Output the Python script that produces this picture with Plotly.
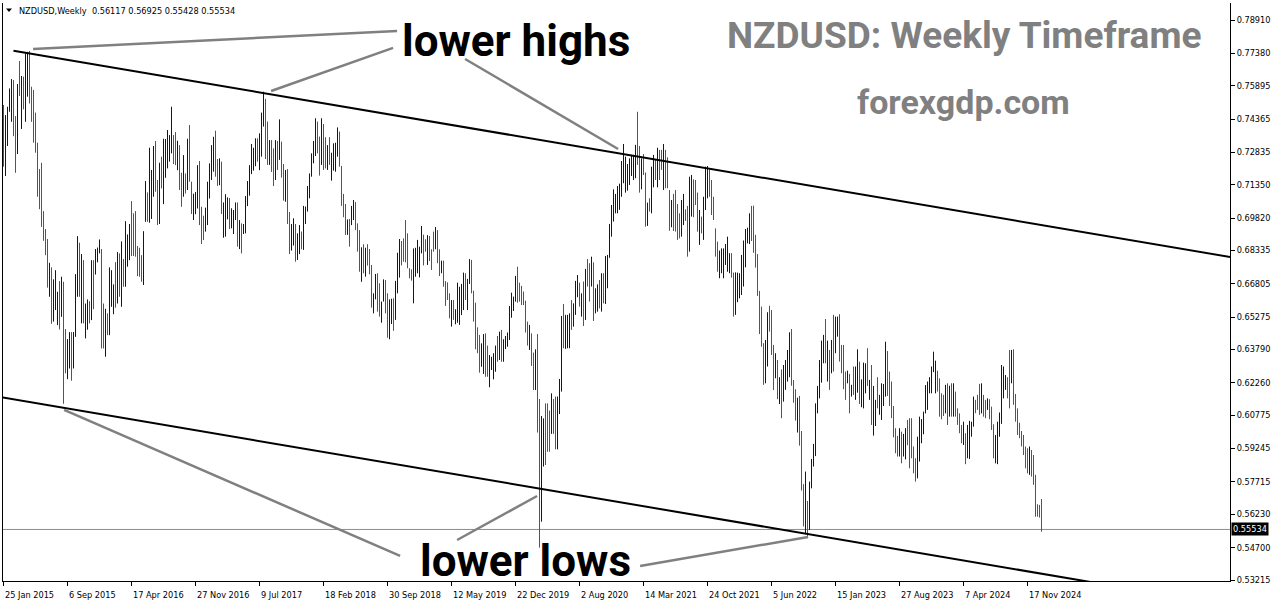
import plotly.graph_objects as go

# ---------------- data: NZDUSD weekly bars, first bar = week of 25 Jan 2015 ----------------
highs = [
    .7501, .7455, .7493, .7577, .7620, .7615, .7450, .7597, .7703, .7634,
    .7631, .7738, .7745, .7749, .7585, .7570, .7466, .7328, .7207, .7236,
    .7014, .6932, .6886, .6777, .6756, .6701, .6743, .6644, .6693, .6713,
    .6690, .6473, .6427, .6459, .6459, .6459, .6725, .6899, .6869, .6817,
    .6789, .6590, .6609, .6601, .6789, .6789, .6840, .6847, .6884, .6840,
    .6590, .6566, .6545, .6756, .6743, .6678, .6780, .6826, .6820, .6875,
    .6794, .6968, .6907, .6955, .7060, .7004, .7014, .6854, .6846, .6812,
    .6922, .7152, .7100, .7305, .7203, .7313, .7336, .7157, .7236, .7264,
    .7346, .7345, .7386, .7363, .7493, .7363, .7377, .7337, .7317, .7190,
    .7271, .7187, .7346, .7409, .7149, .7094, .7102, .7225, .7244, .7034,
    .6993, .7030, .7149, .7233, .7317, .7355, .7383, .7253, .7256, .7241,
    .7054, .7092, .7077, .7074, .7027, .7019, .7054, .7054, .6973, .6958,
    .6955, .7083, .7152, .7225, .7322, .7305, .7348, .7348, .7371, .7466,
    .7562, .7529, .7425, .7340, .7340, .7302, .7340, .7336, .7435, .7333,
    .7230, .7203, .7207, .7010, .6955, .6981, .6955, .6912, .6950, .6920,
    .7038, .7035, .7129, .7187, .7279, .7336, .7440, .7425, .7356, .7440,
    .7414, .7353, .7317, .7353, .7282, .7325, .7328, .7398, .7379, .7221,
    .7093, .7047, .6976, .6978, .7038, .7065, .7056, .6958, .6927, .6848,
    .6862, .6846, .6862, .6840, .6767, .6637, .6726, .6729, .6683, .6599,
    .6701, .6698, .6637, .6609, .6612, .6614, .6694, .6823, .6886, .6877,
    .6889, .6973, .6912, .6752, .6747, .6843, .6846, .6882, .6851, .6946,
    .6906, .6885, .6904, .6900, .6839, .6920, .6941, .6927, .6839, .6787,
    .6787, .6693, .6687, .6637, .6606, .6606, .6564, .6686, .6667, .6680,
    .6732, .6729, .6703, .6794, .6790, .6649, .6594, .6481, .6446, .6407,
    .6450, .6453, .6397, .6354, .6346, .6362, .6397, .6441, .6461, .6469,
    .6426, .6441, .6457, .6579, .6640, .6622, .6717, .6759, .6686, .6671,
    .6645, .6603, .6507, .6492, .6453, .6365, .6380, .6450, .6152, .6074,
    .6063, .6132, .6132, .6099, .6178, .6152, .6163, .6163, .6244, .6533,
    .6588, .6538, .6538, .6545, .6606, .6591, .6694, .6721, .6686, .6637,
    .6691, .6749, .6794, .6775, .6805, .6779, .6660, .6678, .6698, .6729,
    .6729, .6808, .6813, .6955, .7042, .7114, .7093, .7129, .7140, .7244,
    .7322, .7264, .7230, .7256, .7272, .7272, .7318, .7470, .7313, .7256,
    .7276, .7191, .7053, .7073, .7218, .7272, .7252, .7305, .7295, .7295,
    .7322, .7295, .7261, .7111, .7065, .7093, .7111, .7047, .7004, .7065,
    .7093, .7022, .7038, .7172, .7180, .7160, .7157, .7099, .7019, .6989,
    .7080, .7218, .7221, .7206, .7157, .7080, .6935, .6874, .6833, .6843,
    .6843, .6863, .6897, .6821, .6821, .6732, .6733, .6732, .6729, .6813,
    .6879, .6932, .6938, .7004, .7038, .7039, .6905, .6817, .6648, .6576,
    .6408, .6423, .6550, .6580, .6560, .6400, .6362, .6331, .6252, .6288,
    .6308, .6331, .6377, .6458, .6473, .6239, .6197, .6158, .6166, .6005,
    .5761, .5819, .5684, .5773, .5877, .5946, .6132, .6212, .6331, .6420,
    .6446, .6519, .6420, .6377, .6423, .6538, .6530, .6530, .6541, .6400,
    .6400, .6278, .6282, .6267, .6217, .6301, .6301, .6380, .6323, .6242,
    .6319, .6316, .6385, .6240, .6308, .6212, .6148, .6252, .6171, .6224,
    .6221, .6415, .6372, .6278, .6232, .6120, .6018, .5983, .6018, .6002,
    .5992, .6018, .6056, .6064, .6064, .5934, .5880, .5979, .6071, .6060,
    .6094, .6216, .6232, .6252, .6301, .6369, .6328, .6282, .6247, .6178,
    .6171, .6217, .6224, .6213, .6224, .6224, .6186, .6109, .6086, .6033,
    .6048, .5995, .6033, .6052, .6048, .6163, .6148, .6171, .6221, .6224,
    .6171, .6148, .6155, .6151, .6117, .6036, .5987, .6048, .6090, .6308,
    .6301, .6262, .6252, .6377, .6377, .6380, .6175, .6109, .6043, .6005,
    .5987, .5934, .5926, .5934, .5918, .5895, .5804, .5669, .5666, .5693,
]
lows = [
    .7218, .7175, .7313, .7470, .7424, .7358, .7190, .7276, .7542, .7391,
    .7481, .7424, .7539, .7508, .7424, .7328, .7282, .7080, .7023, .6942,
    .6878, .6812, .6663, .6621, .6497, .6507, .6560, .6491, .6471, .6529,
    .6130, .6270, .6243, .6292, .6236, .6292, .6437, .6621, .6621, .6499,
    .6499, .6430, .6470, .6499, .6514, .6564, .6723, .6779, .6820, .6384,
    .6384, .6346, .6445, .6445, .6575, .6541, .6571, .6590, .6621, .6575,
    .6667, .6667, .6759, .6789, .6808, .6808, .6805, .6716, .6713, .6690,
    .6675, .6965, .6965, .6961, .6978, .7080, .7103, .6950, .6955, .7118,
    .7046, .7167, .7210, .7241, .7279, .7230, .7225, .7202, .7111, .7034,
    .7080, .7095, .7111, .7149, .7001, .6973, .7000, .7026, .6950, .6863,
    .6881, .6920, .6950, .7072, .7157, .7195, .7172, .7130, .7133, .7001,
    .6892, .6897, .6976, .6932, .6935, .6909, .6973, .6851, .6840, .6820,
    .6909, .6912, .7037, .7085, .7184, .7200, .7220, .7241, .7202, .7264,
    .7402, .7253, .7226, .7226, .7194, .7129, .7157, .7203, .7249, .7168,
    .7062, .7057, .6955, .6817, .6833, .6856, .6782, .6790, .6817, .6839,
    .6836, .6955, .7012, .7073, .7172, .7233, .7267, .7279, .7177, .7226,
    .7203, .7210, .7203, .7226, .7154, .7200, .7195, .7264, .7218, .7038,
    .6986, .6905, .6905, .6851, .6950, .6973, .6927, .6828, .6736, .6690,
    .6729, .6713, .6764, .6724, .6571, .6545, .6609, .6553, .6530, .6502,
    .6599, .6545, .6433, .6426, .6496, .6465, .6515, .6637, .6709, .6765,
    .6782, .6779, .6752, .6706, .6695, .6591, .6713, .6729, .6710, .6820,
    .6765, .6828, .6767, .6785, .6744, .6828, .6839, .6775, .6716, .6729,
    .6667, .6579, .6606, .6522, .6484, .6515, .6495, .6502, .6492, .6537,
    .6560, .6606, .6560, .6680, .6637, .6507, .6380, .6362, .6273, .6300,
    .6267, .6254, .6254, .6206, .6285, .6242, .6277, .6323, .6331, .6323,
    .6323, .6381, .6392, .6423, .6525, .6556, .6599, .6594, .6599, .6583,
    .6583, .6457, .6397, .6377, .6304, .6193, .6193, .5998, .5470, .5589,
    .5842, .5849, .5910, .5910, .5992, .5992, .5921, .5921, .6083, .6186,
    .6385, .6382, .6385, .6385, .6469, .6484, .6538, .6619, .6576, .6530,
    .6487, .6515, .6668, .6599, .6668, .6510, .6545, .6553, .6568, .6553,
    .6591, .6588, .6660, .6800, .6897, .6966, .7004, .7004, .7020, .7080,
    .7142, .7099, .7108, .7134, .7175, .7157, .7165, .7226, .7099, .7114,
    .7180, .6943, .6946, .7012, .7004, .7123, .7157, .7123, .7157, .7203,
    .7111, .7119, .7119, .6924, .6940, .6923, .6920, .6882, .6889, .6897,
    .6950, .6969, .6805, .6828, .6989, .6986, .7042, .6920, .6859, .6912,
    .6882, .7019, .7073, .7080, .6996, .6973, .6805, .6736, .6706, .6729,
    .6706, .6767, .6736, .6729, .6709, .6530, .6538, .6596, .6614, .6629,
    .6668, .6756, .6866, .6863, .6877, .6823, .6755, .6625, .6450, .6392,
    .6217, .6224, .6301, .6461, .6354, .6193, .6247, .6151, .6129, .6064,
    .6140, .6194, .6232, .6252, .6213, .6135, .6053, .5998, .5938, .5732,
    .5567, .5536, .5513, .5551, .5742, .5842, .5890, .6086, .6155, .6227,
    .6316, .6316, .6232, .6194, .6270, .6278, .6362, .6438, .6324, .6270,
    .6197, .6148, .6224, .6086, .6163, .6171, .6148, .6181, .6129, .6114,
    .6109, .6178, .6212, .6148, .6033, .5984, .6028, .6109, .6080, .6056,
    .6120, .6163, .6166, .6120, .6064, .5976, .5903, .5888, .5888, .5857,
    .5888, .5875, .5940, .5834, .5880, .5811, .5773, .5788, .5865, .5949,
    .5990, .6086, .6102, .6178, .6178, .6275, .6178, .6186, .6071, .6059,
    .6074, .6086, .6033, .6071, .6071, .6071, .6071, .6033, .5995, .5949,
    .5941, .5853, .5880, .5877, .5979, .6025, .6087, .6102, .6079, .6086,
    .6071, .6064, .6102, .6059, .6010, .5880, .5857, .5853, .5979, .6038,
    .6155, .6194, .6155, .6109, .6224, .6125, .6048, .5987, .5972, .5934,
    .5895, .5834, .5811, .5804, .5796, .5758, .5612, .5612, .5608, .5543,
]
# u = bullish (blue) bar, d = bearish (red) bar, in groups of 10 weeks
dirs = ("duuuuddudu duuddddddd ddduduuudu dduuduuudu duududuuud "
        "duduuududu duuudddddd uuduuuddud uuuuuddudd ududduuudd "
        "duuuuuddud uuuduuudud uuuuuuuduu udduddudud dudduuduud "
        "uuuuuuuddu dduduuuudd dduduudddu duddduuddu udduuduuud "
        "ddddduuuuu dduddduddu dddduduuuu uduudddddu udduuuudud "
        "uuuuuuuddd dddudduddu udddudduuu duuuduuudu dudduduudu "
        "duuuuuuuuu uuuuuuuddu dduduududd uddduddddu udduudddud "
        "uuuddddduu uuuudduuuu uuuudddddd duudddudud uuuudddudd "
        "duduuuuuuu udududuudd ddududuudu uududuuduu uuddddddud "
        "uuddddduuu uuuuuuuddd dudududddd uduuuudddu dduddduuuu "
        "uudduddddd dddudddddd").replace(" ", "")

x_tick_weeks = [0, 32, 64, 96, 128, 160, 192, 224, 256, 288, 320, 352, 384, 416, 448, 480, 512]
x_tick_labels = ["25 Jan 2015", "6 Sep 2015", "17 Apr 2016", "27 Nov 2016", "9 Jul 2017",
                 "18 Feb 2018", "30 Sep 2018", "12 May 2019", "22 Dec 2019", "2 Aug 2020",
                 "14 Mar 2021", "24 Oct 2021", "5 Jun 2022", "15 Jan 2023", "27 Aug 2023",
                 "7 Apr 2024", "17 Nov 2024"]
y_tick_vals = [0.78910, 0.77380, 0.75895, 0.74365, 0.72835, 0.71350, 0.69820, 0.68335, 0.66805,
               0.65275, 0.63790, 0.62260, 0.60775, 0.59245, 0.57715, 0.56230, 0.54700, 0.53215]
y_tick_text = ["%.5f" % v for v in y_tick_vals]

last_ohlc = [0.56117, 0.56925, 0.55428, 0.55534]
bid_price = 0.55534

# channel (lower line anchor points, parallel upper line offset)
lower_line = [(-1, 0.61596), (560, 0.52866)]
channel_width = 0.1600
upper_start_week = 5

# helper (annotation) lines: (week, price) pairs
helper_lines = [
    ((14.8, 0.7758), (196.8, 0.7841)),
    ((133.8, 0.7565), (194.8, 0.7763)),
    ((230.8, 0.7712), (307.3, 0.7299)),
    ((30.3, 0.6102), (198.3, 0.5432)),
    ((226.8, 0.5505), (266.8, 0.5707)),
    ((318.3, 0.5386), (402.3, 0.5519)),
]

assert len(highs) == len(lows) == len(dirs), (len(highs), len(lows), len(dirs))

# ---------------- figure ----------------
W, H = 1276, 604
ML, MR, MT, MB = 3, 46, 3, 23
PW, PH = W - ML - MR, H - MT - MB


def pxx(px):
    return (px - ML) / PW


def pxy(py):
    return (H - MB - py) / PH


fig = go.Figure()


def segments(kind):
    xs, ys = [], []
    for i, c in enumerate(dirs):
        if c == kind:
            xs += [i, i, None]
            ys += [lows[i], highs[i], None]
    return xs, ys


for kind, col in (("d", "#e8141a"), ("u", "#0000c8")):
    xs, ys = segments(kind)
    fig.add_trace(go.Scatter(x=xs, y=ys, mode="lines", line=dict(color=col, width=1),
                             hoverinfo="skip", showlegend=False))

shapes = []
# bid line
shapes.append(dict(type="line", xref="paper", yref="y", x0=0, x1=1, y0=bid_price, y1=bid_price,
                   line=dict(color="#8090a0", width=1), layer="below"))
# channel lines
(lx0, ly0), (lx1, ly1) = lower_line
slope = (ly1 - ly0) / (lx1 - lx0)
shapes.append(dict(type="line", xref="x", yref="y", x0=lx0, y0=ly0, x1=lx1, y1=ly1,
                   line=dict(color="black", width=2)))
ux0 = upper_start_week
ux1 = 620
shapes.append(dict(type="line", xref="x", yref="y",
                   x0=ux0, y0=ly0 + slope * (ux0 - lx0) + channel_width,
                   x1=ux1, y1=ly0 + slope * (ux1 - lx0) + channel_width,
                   line=dict(color="black", width=2)))
for (a, b) in helper_lines:
    shapes.append(dict(type="line", xref="x", yref="y", x0=a[0], y0=a[1], x1=b[0], y1=b[1],
                       line=dict(color="#808080", width=2.5)))
# small header triangle
shapes.append(dict(type="path", xref="paper", yref="paper",
                   path="M %f %f L %f %f L %f %f Z" % (pxx(6), pxy(8.5), pxx(12), pxy(8.5), pxx(9), pxy(12)),
                   fillcolor="black", line=dict(width=0)))

ann = []
small = dict(family="DejaVu Sans", size=8.2, color="black")
for w, lab in zip(x_tick_weeks, x_tick_labels):
    ann.append(dict(x=w, xref="x", y=0, yref="paper", text=lab, xanchor="left", yanchor="top",
                    showarrow=False, yshift=-7, xshift=-1, font=small))
ann.append(dict(x=pxx(17), xref="paper", y=pxy(10.5), yref="paper", xanchor="left", yanchor="middle",
                text="NZDUSD,Weekly\u00a0\u00a0" + " ".join("%.5f" % v for v in last_ohlc),
                showarrow=False, font=small))
ann.append(dict(x=1, xref="paper", y=bid_price, yref="y", xanchor="left", yanchor="middle",
                xshift=1, text="%.5f" % bid_price, showarrow=False, bgcolor="black", borderpad=1,
                font=dict(family="DejaVu Sans", size=8.2, color="white")))
big = "Roboto"
ann.append(dict(x=pxx(400), xref="paper", y=pxy(41), yref="paper", xanchor="left", yanchor="middle",
                text="<b>lower highs</b>", showarrow=False, font=dict(family=big, size=44, color="black")))
ann.append(dict(x=pxx(418), xref="paper", y=pxy(561), yref="paper", xanchor="left", yanchor="middle",
                text="<b>lower lows</b>", showarrow=False, font=dict(family=big, size=44, color="black")))
ann.append(dict(x=pxx(725), xref="paper", y=pxy(36), yref="paper", xanchor="left", yanchor="middle",
                text="<b>NZDUSD: Weekly Timeframe</b>", showarrow=False,
                font=dict(family=big, size=37, color="#808080")))
ann.append(dict(x=pxx(855), xref="paper", y=pxy(102), yref="paper", xanchor="left", yanchor="middle",
                text="<b>forexgdp.com</b>", showarrow=False, font=dict(family=big, size=34, color="#808080")))

fig.update_layout(width=W, height=H, autosize=False,
                  margin=dict(l=ML, r=MR, t=MT, b=MB, pad=0),
                  paper_bgcolor="white", plot_bgcolor="white", showlegend=False,
                  font=small, shapes=shapes, annotations=ann, hovermode=False)
fig.update_xaxes(range=[-0.25, -0.25 + PW / 2], showgrid=False, zeroline=False, showline=True,
                 linecolor="black", linewidth=1, ticks="outside", ticklen=4, tickcolor="black",
                 tickvals=x_tick_weeks, showticklabels=False, fixedrange=True)
fig.update_yaxes(range=[0.53169, 0.53169 + PH * 0.00045884], side="right", showgrid=False,
                 zeroline=False, showline=True, mirror=True, linecolor="black", linewidth=1,
                 ticks="outside", ticklen=4, tickcolor="black", tickvals=y_tick_vals,
                 ticktext=y_tick_text, tickfont=small, fixedrange=True)

fig.write_html("out.html", config={"displayModeBar": False},
               post_script="document.body.style.margin='0';document.body.style.overflow='hidden';")
